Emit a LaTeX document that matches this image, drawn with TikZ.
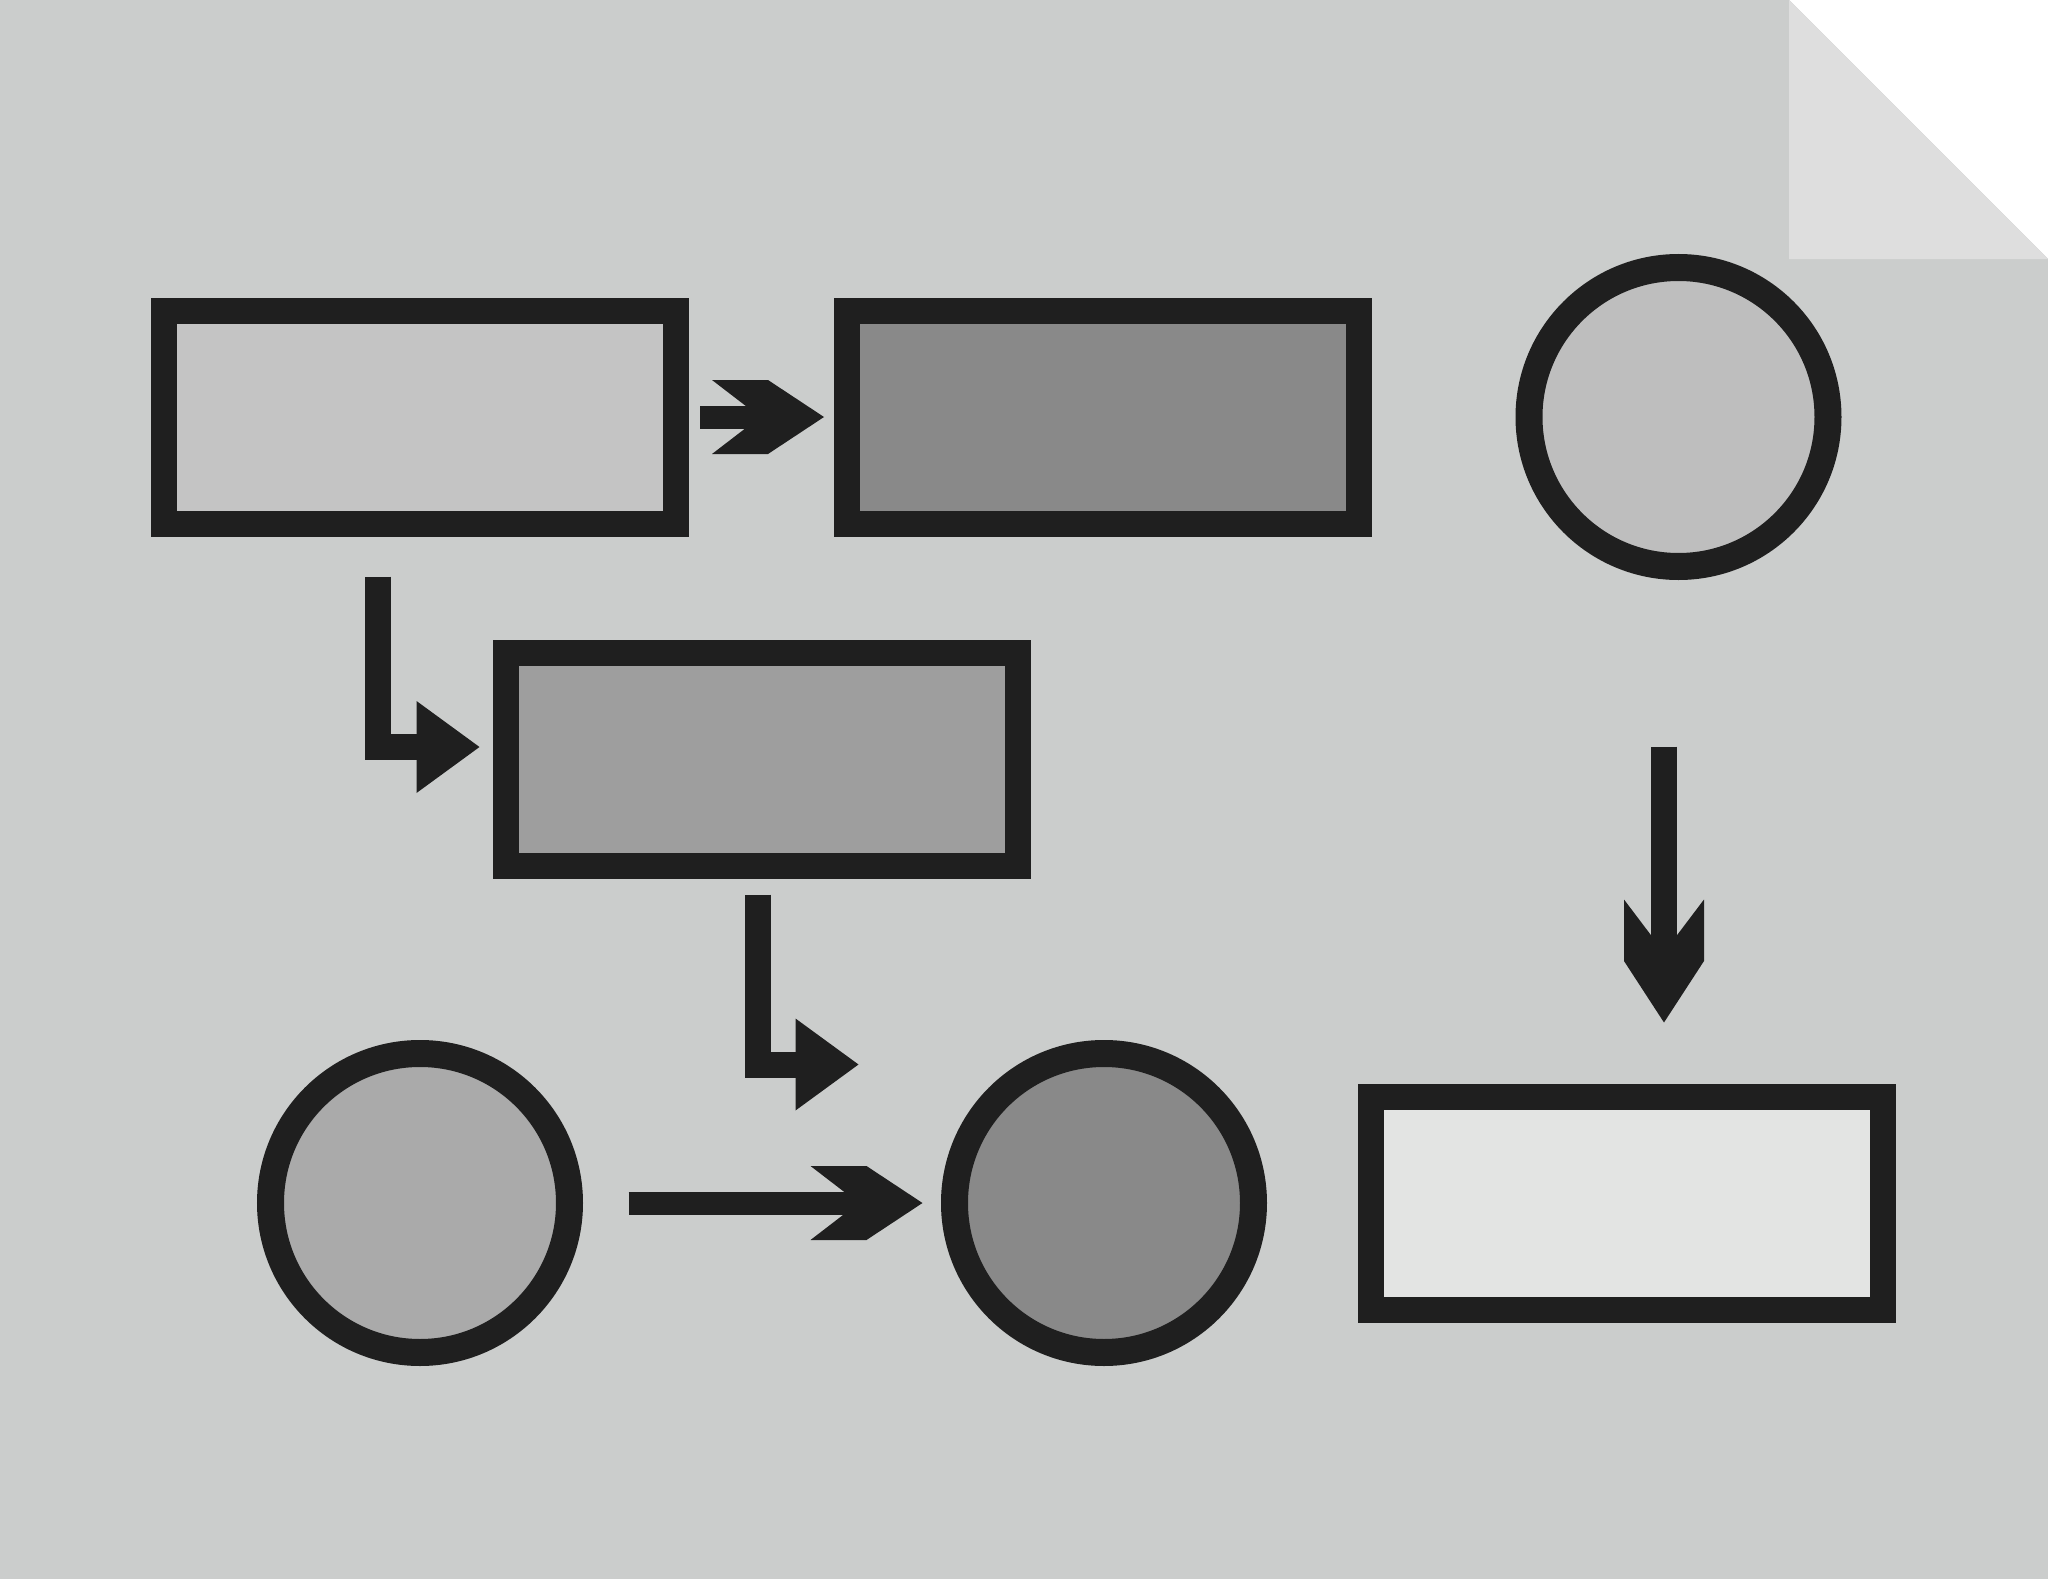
\documentclass[tikz,border=0pt]{standalone}
\usepackage{xcolor}
\usepackage{tikz}
\usetikzlibrary{arrows.meta, positioning, calc}

\definecolor{pagegray}{HTML}{CBCDCC}
\definecolor{foldgray}{HTML}{DEDEDE}
\definecolor{edgeblack}{HTML}{1F1F1F}

% flat-backed arrow head for the straight connectors
\pgfdeclarearrow{
    name = Chevron,
    parameters = {\the\pgfarrowlength,\the\pgfarrowwidth},
    setup code = {
        \pgfarrowssettipend{0pt}
        \pgfarrowssetlineend{-0.45\pgfarrowlength}
        \pgfarrowssetbackend{-\pgfarrowlength}
        \pgfarrowssavethe\pgfarrowlength
        \pgfarrowssavethe\pgfarrowwidth
    },
    drawing code = {
        \pgfpathmoveto{\pgfpoint{0pt}{0pt}}
        \pgfpathlineto{\pgfpoint{-0.5\pgfarrowlength}{0.5\pgfarrowwidth}}
        \pgfpathlineto{\pgfpoint{-\pgfarrowlength}{0.5\pgfarrowwidth}}
        \pgfpathlineto{\pgfpoint{-0.57\pgfarrowlength}{0pt}}
        \pgfpathlineto{\pgfpoint{-\pgfarrowlength}{-0.5\pgfarrowwidth}}
        \pgfpathlineto{\pgfpoint{-0.5\pgfarrowlength}{-0.5\pgfarrowwidth}}
        \pgfpathclose
        \pgfusepathqfill
    },
    defaults = {length=1.12cm, width=0.74cm}
}

% plain triangle head for the bent connectors
\pgfdeclarearrow{
    name = Wedge,
    parameters = {\the\pgfarrowlength,\the\pgfarrowwidth},
    setup code = {
        \pgfarrowssettipend{0pt}
        \pgfarrowssetlineend{-0.3\pgfarrowlength}
        \pgfarrowssetbackend{-\pgfarrowlength}
        \pgfarrowssavethe\pgfarrowlength
        \pgfarrowssavethe\pgfarrowwidth
    },
    drawing code = {
        \pgfpathmoveto{\pgfpoint{0pt}{0pt}}
        \pgfpathlineto{\pgfpoint{-\pgfarrowlength}{0.5\pgfarrowwidth}}
        \pgfpathlineto{\pgfpoint{-\pgfarrowlength}{-0.5\pgfarrowwidth}}
        \pgfpathclose
        \pgfusepathqfill
    },
    defaults = {length=0.63cm, width=0.92cm}
}

\tikzset{
    block/.style={
        rectangle,
        draw=edgeblack,
        line width=0.26cm,
        minimum width=5.12cm,
        minimum height=2.13cm,
        inner sep=0pt,
        outer sep=0pt
    },
    disc/.style={
        circle,
        draw=edgeblack,
        line width=0.27cm,
        minimum size=2.99cm,
        inner sep=0pt,
        outer sep=0pt
    },
    flow/.style={
        draw=edgeblack,
        line width=0.23cm,
        -{Chevron[length=1.12cm,width=0.74cm]}
    },
    elbow/.style={
        draw=edgeblack,
        line width=0.26cm,
        line join=miter,
        -{Wedge[length=0.63cm,width=0.92cm]}
    }
}

\begin{document}
\begin{tikzpicture}

% Page with folded corner
\useasboundingbox (0,0) rectangle (20.48,-15.79);
\fill[white] (0,0) rectangle (20.48,-15.79);
\fill[pagegray] (0,0) -- (17.89,0) -- (20.48,-2.59) -- (20.48,-15.79) -- (0,-15.79) -- cycle;
\fill[foldgray] (17.89,0) -- (17.89,-2.59) -- (20.48,-2.59) -- cycle;

% Top row
\node[block, fill={rgb,255:red,196;green,196;blue,196}] (recA) at (4.20,-4.17) {};
\node[block, fill={rgb,255:red,137;green,137;blue,137}, right=1.71cm of recA] (recB) {};
\node[disc, fill={rgb,255:red,190;green,190;blue,190}] (circTR) at (16.785,-4.17) {};

% Middle row
\node[block, fill={rgb,255:red,158;green,158;blue,158}] (recC) at (7.615,-7.59) {};

% Bottom row
\node[disc, fill={rgb,255:red,170;green,170;blue,170}] (circBL) at (4.20,-12.03) {};
\node[disc, fill={rgb,255:red,137;green,137;blue,137}, right=3.85cm of circBL] (circBM) {};
\node[block, fill={rgb,255:red,227;green,228;blue,227}] (recD) at (16.274,-12.03) {};

% Straight connectors
\draw[flow, shorten <=0.24cm, shorten >=0.23cm] (recA) -- (recB);
\draw[flow, shorten <=0.59cm, shorten >=0.32cm] (circBL) -- (circBM);
\draw[flow, line width=0.26cm, -{Chevron[length=1.23cm,width=0.80cm]}, shorten <=1.80cm, shorten >=0.74cm]
    ($(circTR.south)+(-0.145,0)$) -- ($(circTR.south |- recD.north)+(-0.145,0)$);

% Bent connectors
\draw[elbow, shorten <=0.53cm, shorten >=0.26cm] ($(recA.south)+(-0.42,0)$) |- ($(recC.west)+(0,0.12)$);
\draw[elbow, shorten <=0.29cm, shorten >=0.96cm] ($(recC.south)+(-0.035,0)$) |- ($(circBM.west)+(0,1.385)$);

\end{tikzpicture}
\end{document}
